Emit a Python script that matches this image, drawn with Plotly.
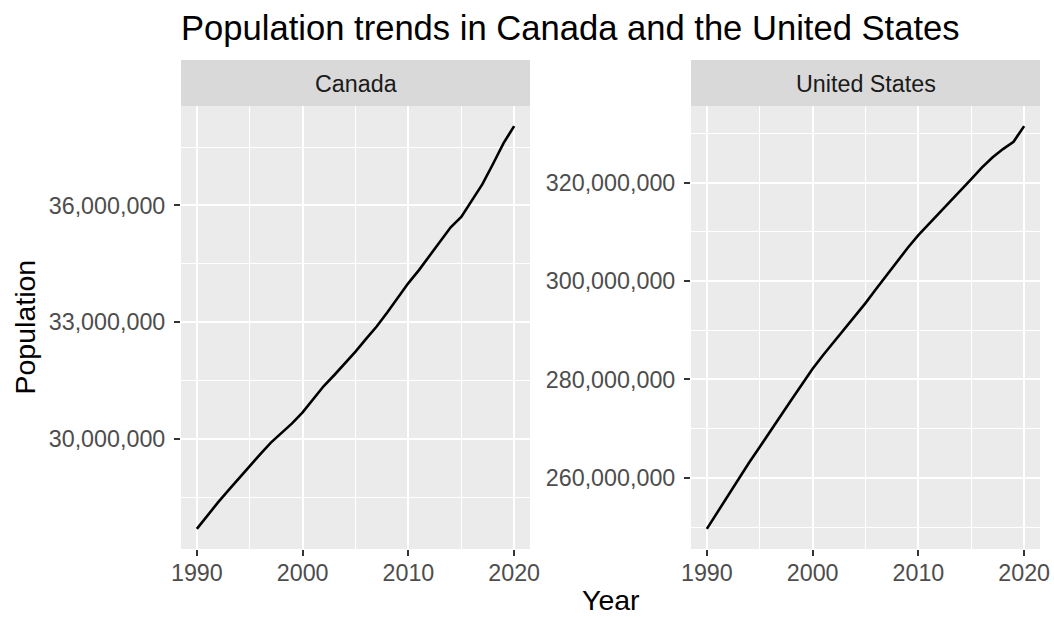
import plotly.graph_objects as go

# Annual population, 1990-2020
years = list(range(1990, 2021))

canada = [
    27691138, 28037420, 28371264, 28684764, 29000663, 29302311, 29610218,
    29905948, 30155173, 30401286, 30685730, 31020902, 31360079, 31644028,
    31940655, 32243753, 32571174, 32889025, 33247118, 33628895, 34004889,
    34339328, 34714222, 35082954, 35437435, 35702908, 36109487, 36545236,
    37065084, 37601230, 38037204,
]

united_states = [
    249623000, 252981000, 256514000, 259919000, 263126000, 266278000,
    269394000, 272657000, 275854000, 279040000, 282162411, 284968955,
    287625193, 290107933, 292805298, 295516599, 298379912, 301231207,
    304093966, 306771529, 309327143, 311583481, 313877662, 316059947,
    318386329, 320738994, 323071755, 325122128, 326838199, 328329953,
    331501080,
]

panel_names = ["Canada", "United States"]
x_ticks = [1990, 2000, 2010, 2020]
x_minor = [1995, 2005, 2015]
canada_ticks = [30000000, 33000000, 36000000]
us_ticks = [260000000, 280000000, 300000000, 320000000]

W, H = 1054, 617
FONT = "Liberation Sans, Arial, sans-serif"
TICK_SIZE = 23.3
BG = "#EBEBEB"


def px_x(p):
    return p / W


def px_y(p):
    return 1 - p / H


def padded(vals, frac=0.05):
    lo, hi = min(vals), max(vals)
    span = hi - lo
    return [lo - frac * span, hi + frac * span]


panels = [
    dict(name=panel_names[0], y=canada, ticks=canada_ticks, minor=1500000,
         left=181, right=530),
    dict(name=panel_names[1], y=united_states, ticks=us_ticks, minor=10000000,
         left=691, right=1040),
]
top, bottom = 106, 549
strip_top = 60

fig = go.Figure()
annotations = []
shapes = []

for i, p in enumerate(panels, start=1):
    sfx = "" if i == 1 else str(i)
    fig.add_trace(go.Scatter(
        x=years, y=p["y"], mode="lines",
        line=dict(color="black", width=2.6),
        xaxis="x" + sfx, yaxis="y" + sfx, showlegend=False,
    ))

    y_minor = [t - p["minor"] for t in p["ticks"]] + [p["ticks"][-1] + p["minor"]]
    fig.update_layout(**{
        "xaxis" + sfx: dict(
            domain=[px_x(p["left"]), px_x(p["right"])],
            anchor="y" + sfx, range=padded(years),
            tickmode="array", tickvals=x_ticks,
            ticks="outside", ticklen=6, tickwidth=2, tickcolor="#333333",
            ticklabelstandoff=-3,
            tickfont=dict(size=TICK_SIZE, color="#4D4D4D", family=FONT),
            showgrid=True, gridcolor="white", gridwidth=2.2,
            minor=dict(tickmode="array", tickvals=x_minor,
                       showgrid=True, gridcolor="white", gridwidth=1.1,
                       ticks=""),
            zeroline=False, showline=False, fixedrange=True, automargin=False,
        ),
        "yaxis" + sfx: dict(
            domain=[px_y(bottom), px_y(top)],
            anchor="x" + sfx, range=padded(p["y"]),
            tickmode="array", tickvals=p["ticks"], tickformat=",d",
            ticks="outside", ticklen=6, tickwidth=2, tickcolor="#333333",
            ticklabelstandoff=4,
            tickfont=dict(size=TICK_SIZE, color="#4D4D4D", family=FONT),
            showgrid=True, gridcolor="white", gridwidth=2.2,
            minor=dict(tickmode="array", tickvals=y_minor,
                       showgrid=True, gridcolor="white", gridwidth=1.1,
                       ticks=""),
            zeroline=False, showline=False, fixedrange=True, automargin=False,
        ),
    })

    # panel background
    shapes.append(dict(
        type="rect", xref="paper", yref="paper", layer="below",
        x0=px_x(p["left"]), x1=px_x(p["right"]),
        y0=px_y(bottom), y1=px_y(top),
        fillcolor=BG, line=dict(width=0),
    ))
    # facet strip
    shapes.append(dict(
        type="rect", xref="paper", yref="paper",
        x0=px_x(p["left"]), x1=px_x(p["right"]),
        y0=px_y(top), y1=px_y(strip_top),
        fillcolor="#D9D9D9", line=dict(width=0),
    ))
    annotations.append(dict(
        text=p["name"], xref="paper", yref="paper",
        x=px_x((p["left"] + p["right"]) / 2), y=px_y(84),
        xanchor="center", yanchor="middle", showarrow=False,
        font=dict(size=TICK_SIZE, color="#1A1A1A", family=FONT),
    ))

annotations += [
    dict(text="Population trends in Canada and the United States",
         xref="paper", yref="paper", x=px_x(179), y=px_y(28),
         xanchor="left", yanchor="middle", showarrow=False,
         font=dict(size=34.6, color="black", family=FONT)),
    dict(text="Year", xref="paper", yref="paper",
         x=px_x((181 + 1040) / 2), y=px_y(600),
         xanchor="center", yanchor="middle", showarrow=False,
         font=dict(size=28.5, color="black", family=FONT)),
    dict(text="Population", xref="paper", yref="paper",
         x=px_x(24), y=px_y((top + bottom) / 2), textangle=-90,
         xanchor="center", yanchor="middle", showarrow=False,
         font=dict(size=28.5, color="black", family=FONT)),
]

fig.update_layout(
    width=W, height=H, autosize=False,
    margin=dict(l=0, r=0, t=0, b=0),
    paper_bgcolor="white", plot_bgcolor="rgba(0,0,0,0)",
    shapes=shapes, annotations=annotations,
    font=dict(family=FONT),
)

fig.write_html("out.html")
